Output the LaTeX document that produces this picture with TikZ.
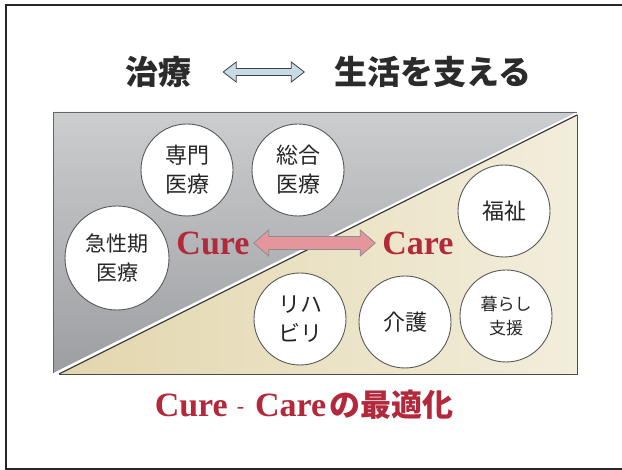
\documentclass[tikz,border=0pt]{standalone}
\usepackage{fontspec}
\setmainfont{Liberation Serif}
\newfontfamily\jp{Noto Sans CJK JP}
\usetikzlibrary{calc}
\definecolor{curered}{HTML}{B3283A}
\definecolor{titleink}{HTML}{2B2B2B}
\definecolor{graylight}{HTML}{CBCDCF}
\definecolor{graydark}{HTML}{9C9EA1}
\definecolor{beigedark}{HTML}{E3D6AD}
\definecolor{beigelight}{HTML}{F2EEDC}
\definecolor{arrowblue}{HTML}{C6DBE6}
\definecolor{arrowpink}{HTML}{E5969D}
\pgfdeclareradialshading{ballshade}{\pgfpoint{0bp}{0bp}}{color(0bp)=(white); color(34bp)=(white); color(50bp)=(black!16); color(100bp)=(black!16)}
\newcommand\myDblArrow[6]{%
  \draw[#1] let \p1=(#2), \p2=(#3) in (\p1) -- (\x1+#4,\y1+#5) -- (\x1+#4,\y1+#6)
    -- (\x2-#4,\y2+#6) -- (\x2-#4,\y2+#5) -- (\p2) -- (\x2-#4,\y2-#5)
    -- (\x2-#4,\y2-#6) -- (\x1+#4,\y1-#6) -- (\x1+#4,\y1-#5) -- cycle;}
\tikzset{
  frameline/.style={line width=1.4pt, draw=black!85},
  titletext/.style={font=\jp\bfseries\fontsize{33}{36}\selectfont, text=titleink, inner sep=0pt},
  latinred/.style={font=\bfseries\fontsize{34}{36}\selectfont, text=curered, inner sep=0pt},
  ball/.style={circle, inner sep=0pt, minimum size=92pt, shading=ballshade,
    draw=black!65, line width=0.9pt, align=center, text=black!85,
    font=\jp\fontsize{22}{29}\selectfont},
  smallball/.style={ball, font=\jp\fontsize{17}{24}\selectfont},
  bigball/.style={ball, minimum size=104pt, font=\jp\fontsize{21}{29}\selectfont},
  bluearrow/.style={fill=arrowblue, draw=black!75, line width=0.8pt, line join=miter},
  pinkarrow/.style={fill=arrowpink, draw=black!45, line width=0.8pt, line join=miter}
}
\begin{document}
\begin{tikzpicture}[x=1pt,y=-1pt]
\useasboundingbox (0,0) rectangle (622,470);
\fill[white] (0,0) rectangle (622,470);
\draw[frameline] (640,5) -- (6,5) -- (6,469) -- (640,469);

% title
\node[titletext] (chiryo) at (158,72) {治療};
\node[titletext] (seikatsu) at (433,72) {生活を支える};
\coordinate (tl) at ($(chiryo.east)+(32,0)$);
\coordinate (tr) at ($(seikatsu.west)+(-30,0)$);
\myDblArrow{bluearrow}{tl}{tr}{13pt}{10pt}{3.5pt}

% panel
\shade[top color=graylight, bottom color=graydark] (53,112) -- (577,112) -- (53,373) -- cycle;
\draw[black!60, line width=0.8pt] (577,112) -- (53,112) -- (53,373);
\shade[left color=beigedark, right color=beigelight] (59,374) -- (577,115) -- (577,374) -- cycle;
\draw[black!70, line width=0.9pt] (59,374) -- (577,374) -- (577,115);
\draw[black!75, line width=1.3pt] (59,374) -- (577,115);

% circles
\node[ball] (senmon) at (187,170) {専門\\医療};
\node[ball] (sougou) at (298,170) {総合\\医療};
\node[bigball] (kyusei) at (117,258) {急性期\\医療};
\node[ball] (fukushi) at (504,211) {福祉};
\node[ball] (riha) at (300,319) {リハ\\ビリ};
\node[ball] (kaigo) at (405,322) {介護};
\node[smallball] (kurashi) at (506,316) {暮らし\\支援};

% cure - care
\node[latinred] (cure) at (213,243) {Cure};
\node[latinred] (care) at (418,243) {Care};
\coordinate (cl) at ($(cure.east)+(4,0)$);
\coordinate (cr) at ($(care.west)+(-7,0)$);
\myDblArrow{pinkarrow}{cl}{cr}{15pt}{13pt}{6.5pt}

% bottom caption
\node[inner sep=0pt, text=curered] (caption) at (304,405)
  {\bfseries\fontsize{34}{36}\selectfont Cure\hspace{9pt}\raisebox{3pt}{\mdseries\fontsize{22}{22}\selectfont -}\hspace{11pt}Care\hspace{3pt}{\jp\bfseries\fontsize{31}{34}\selectfont の最適化}};
\end{tikzpicture}
\end{document}
